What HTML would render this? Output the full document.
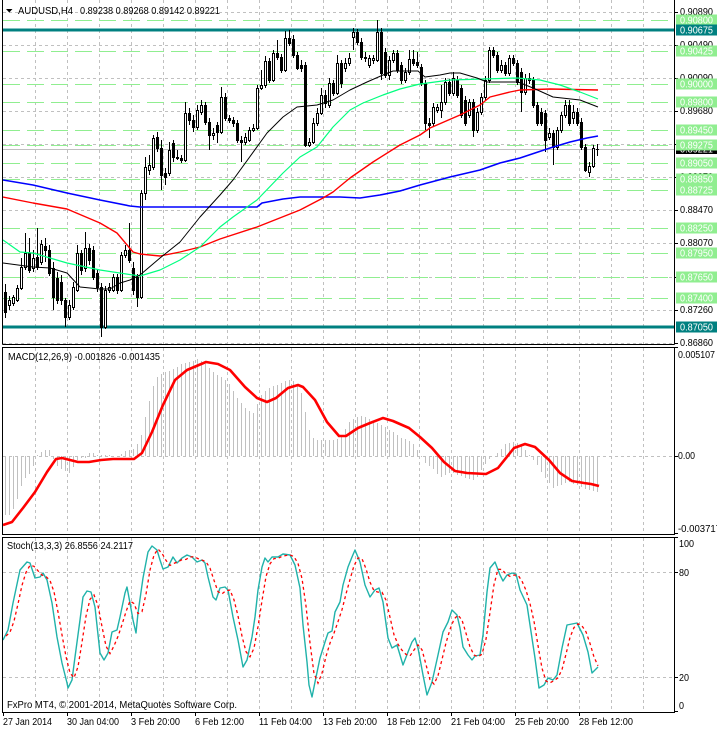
<!DOCTYPE html>
<html><head><meta charset="utf-8">
<style>
html,body{margin:0;padding:0;background:#fff;overflow:hidden;}
svg{display:block;}
text{font-family:"Liberation Sans",Arial,sans-serif;}
</style></head>
<body>
<svg id="s" width="717" height="730" viewBox="0 0 717 730" xmlns="http://www.w3.org/2000/svg">
<defs>
<clipPath id="cm"><rect x="3" y="0" width="671" height="344"/></clipPath>
<clipPath id="cd"><rect x="3" y="348" width="671" height="186"/></clipPath>
<clipPath id="cs"><rect x="3" y="538" width="671" height="174"/></clipPath>
</defs>
<rect width="717" height="730" fill="#fff"/>
<g id="vgrid" stroke="#c0c0c0" stroke-dasharray="3,3" shape-rendering="crispEdges"></g>
<g id="hgrid" stroke="#c0c0c0" stroke-dasharray="3,3" shape-rendering="crispEdges">
<line x1="3" x2="674" y1="12.5" y2="12.5"/><line x1="3" x2="674" y1="45.5" y2="45.5"/>
<line x1="3" x2="674" y1="78.5" y2="78.5"/><line x1="3" x2="674" y1="111.5" y2="111.5"/>
<line x1="3" x2="674" y1="144.5" y2="144.5"/><line x1="3" x2="674" y1="177.5" y2="177.5"/>
<line x1="3" x2="674" y1="210.5" y2="210.5"/><line x1="3" x2="674" y1="243.5" y2="243.5"/>
<line x1="3" x2="674" y1="277.5" y2="277.5"/><line x1="3" x2="674" y1="310.5" y2="310.5"/>
<line x1="3" x2="674" y1="343.5" y2="343.5"/>
<line x1="3" x2="674" y1="456.5" y2="456.5"/>
<line x1="3" x2="674" y1="572.5" y2="572.5"/><line x1="3" x2="674" y1="677.5" y2="677.5"/>
</g>
<g stroke="#90ee90" stroke-width="1" stroke-dasharray="17,7" shape-rendering="crispEdges">
<line x1="3" x2="674" y1="20.5" y2="20.5"/><line x1="3" x2="674" y1="51.5" y2="51.5"/>
<line x1="3" x2="674" y1="84.5" y2="84.5"/><line x1="3" x2="674" y1="102.5" y2="102.5"/>
<line x1="3" x2="674" y1="130.5" y2="130.5"/><line x1="3" x2="674" y1="145.5" y2="145.5"/>
<line x1="3" x2="674" y1="163.5" y2="163.5"/><line x1="3" x2="674" y1="179.5" y2="179.5"/>
<line x1="3" x2="674" y1="190.5" y2="190.5"/><line x1="3" x2="674" y1="228.5" y2="228.5"/>
<line x1="3" x2="674" y1="253.5" y2="253.5"/><line x1="3" x2="674" y1="277.5" y2="277.5"/>
<line x1="3" x2="674" y1="298.5" y2="298.5"/>
</g>
<g stroke="#008080" stroke-width="3" shape-rendering="crispEdges">
<line x1="3" x2="674" y1="30" y2="30"/><line x1="3" x2="674" y1="327" y2="327"/>
</g>
<line x1="3" x2="674" y1="149.5" y2="149.5" stroke="#c0c0c0" shape-rendering="crispEdges"/>
<g id="candles" clip-path="url(#cm)" shape-rendering="crispEdges"></g>
<g clip-path="url(#cm)" fill="none" stroke-linejoin="round">
<polyline stroke="#0000ff" stroke-width="1.6" points="3,180 33,185 67,193 100,200 130,206 140,207 257,207 262,203 283,199 300,197 340,197 360,198 380,195 400,191 420,185 450,177 480,170 500,163 520,158 550,148 570,142 587,138 598,136"/>
<polyline stroke="#ff0000" stroke-width="1.4" points="3,197 33,203 67,209 100,223 117,233 133,252 140,254 160,256 180,252 200,247 220,239 257,227 300,210 323,198 333,192 350,178 373,162 400,145 420,135 430,128 460,115 480,105 490,97 510,92 520,90 550,89 598,90"/>
<polyline stroke="#00ff7f" stroke-width="1.2" points="3,240 20,252 33,253 67,263 100,270 133,275 140,276 160,270 180,260 200,247 207,240 220,227 233,217 257,200 283,173 300,157 317,147 333,127 350,110 363,103 383,95 400,89 420,84 450,80 483,79 517,78 540,80 560,85 580,92 598,99"/>
<polyline stroke="#000000" stroke-width="1" points="3,263 33,267 50,268 67,273 80,287 100,289 110,289 120,283 130,280 140,275 160,258 180,242 200,217 220,195 233,180 267,133 283,117 297,107 317,105 333,100 350,90 367,82 383,75 393,71 418,71 425,77 440,75 450,73 460,73 477,78 487,82 518,82 533,88 553,97 580,100 598,107"/>
</g>
<!-- MACD -->
<g id="hist" clip-path="url(#cd)" stroke="#c0c0c0" shape-rendering="crispEdges"></g>
<polyline clip-path="url(#cd)" fill="none" stroke="#ff0000" stroke-width="2.6" stroke-linejoin="round" points="3,525 12,522 23,508 35,492 47,472 56,459 62,458 78,462 89,462 101,460 113,459 134,459 142,453 152,432 163,405 175,380 187,370 206,362 218,364 230,370 245,387 257,398 267,402 276,398 288,388 298,385 303,387 315,400 327,422 339,436 346,436 358,428 370,423 383,418 393,421 409,428 420,437 432,448 444,462 455,471 467,473 486,474 498,468 514,448 525,444 535,447 549,460 560,473 572,481 584,483 591,484 599,486"/>
<!-- Stoch -->
<g clip-path="url(#cs)" fill="none">
<polyline id="stoch" stroke="#20b2aa" stroke-width="1.4" stroke-linejoin="round" points=""/>
<polyline id="stsig" stroke="#ff0000" stroke-width="1.3" stroke-dasharray="3,3" points=""/>
</g>
<!-- borders -->
<g stroke="#000" fill="none" shape-rendering="crispEdges">
<line x1="2.5" y1="0" x2="2.5" y2="344.5"/><line x1="674.5" y1="0" x2="674.5" y2="344.5"/><line x1="2.5" y1="344.5" x2="674.5" y2="344.5"/>
<rect x="2.5" y="347.5" width="672" height="187"/>
<rect x="2.5" y="537.5" width="672" height="175"/>
</g>
<g id="ticks" stroke="#000" shape-rendering="crispEdges"></g>
<!-- header -->
<polygon points="6,9 12.5,9 9.25,12.5" fill="#000"/>
<text x="18" y="14" font-size="10.5" textLength="55" lengthAdjust="spacingAndGlyphs">AUDUSD,H4</text>
<text x="80" y="14" font-size="10.5" textLength="140" lengthAdjust="spacingAndGlyphs">0.89238 0.89268 0.89142 0.89221</text>
<text x="8" y="360" font-size="10" textLength="152" lengthAdjust="spacingAndGlyphs">MACD(12,26,9) -0.001826 -0.001435</text>
<text x="7" y="549" font-size="10" textLength="126" lengthAdjust="spacingAndGlyphs">Stoch(13,3,3) 26.8556 24.2117</text>
<text x="7" y="708" font-size="10" textLength="230" lengthAdjust="spacingAndGlyphs">FxPro MT4, © 2001-2014, MetaQuotes Software Corp.</text>
<!-- right axis price labels -->
<g font-size="10" fill="#000">
<text x="680" y="15" textLength="33" lengthAdjust="spacingAndGlyphs">0.90890</text>
<text x="680" y="48" textLength="33" lengthAdjust="spacingAndGlyphs">0.90490</text>
<text x="680" y="81" textLength="33" lengthAdjust="spacingAndGlyphs">0.90090</text>
<text x="680" y="114" textLength="33" lengthAdjust="spacingAndGlyphs">0.89680</text>
<text x="680" y="147" textLength="33" lengthAdjust="spacingAndGlyphs">0.89280</text>
<text x="680" y="180" textLength="33" lengthAdjust="spacingAndGlyphs">0.88870</text>
<text x="680" y="213" textLength="33" lengthAdjust="spacingAndGlyphs">0.88470</text>
<text x="680" y="246" textLength="33" lengthAdjust="spacingAndGlyphs">0.88070</text>
<text x="680" y="280" textLength="33" lengthAdjust="spacingAndGlyphs">0.87660</text>
<text x="680" y="313" textLength="33" lengthAdjust="spacingAndGlyphs">0.87260</text>
<text x="680" y="346" textLength="33" lengthAdjust="spacingAndGlyphs">0.86860</text>
</g>
<rect x="676" y="144" width="41" height="10" fill="#000"/>
<text x="680" y="152.5" font-size="10" fill="#fff" textLength="33" lengthAdjust="spacingAndGlyphs">0.89221</text>
<g id="glabels" font-size="10"></g>
<!-- MACD / stoch axis labels -->
<g font-size="10" fill="#000">
<text x="678" y="358" textLength="37" lengthAdjust="spacingAndGlyphs">0.005107</text>
<text x="678" y="459" textLength="17" lengthAdjust="spacingAndGlyphs">0.00</text>
<text x="678" y="532" textLength="43" lengthAdjust="spacingAndGlyphs">-0.003717</text>
<text x="679" y="547" textLength="15" lengthAdjust="spacingAndGlyphs">100</text>
<text x="679" y="576" textLength="10" lengthAdjust="spacingAndGlyphs">80</text>
<text x="679" y="681" textLength="10" lengthAdjust="spacingAndGlyphs">20</text>
<text x="679" y="709" textLength="5" lengthAdjust="spacingAndGlyphs">0</text>
</g>
<g id="tlabels" font-size="10.5" fill="#000"></g>
</svg>
<script>
(function(){
var NS="http://www.w3.org/2000/svg";
function el(tag,a,p){var e=document.createElementNS(NS,tag);for(var k in a)e.setAttribute(k,a[k]);p.appendChild(e);return e;}
function $(id){return document.getElementById(id);}
var vg=$("vgrid");
for(var k=1;k<=20;k++){var x=3+32*k+0.5;
 el("line",{x1:x,x2:x,y1:0,y2:344},vg);
 el("line",{x1:x,x2:x,y1:348,y2:534},vg);
 el("line",{x1:x,x2:x,y1:538,y2:712},vg);}
var tk=$("ticks");
[12,45,78,111,144,177,210,243,277,310,343,456,572,677].forEach(function(y){el("line",{x1:675,x2:678,y1:y+0.5,y2:y+0.5},tk);});
el("line",{x1:675,x2:678,y1:537.5,y2:537.5},tk);el("line",{x1:675,x2:678,y1:711.5,y2:711.5},tk);
el("line",{x1:675,x2:678,y1:347.5,y2:347.5},tk);el("line",{x1:675,x2:678,y1:533.5,y2:533.5},tk);
var tl=$("tlabels");
var labs=[[3,"27 Jan 2014",49],[67,"30 Jan 04:00",52],[131,"3 Feb 20:00",49],[195,"6 Feb 12:00",49],[259,"11 Feb 04:00",53],[323,"13 Feb 20:00",54],[387,"18 Feb 12:00",54],[451,"21 Feb 04:00",54],[515,"25 Feb 20:00",54],[579,"28 Feb 12:00",54]];
labs.forEach(function(l){el("line",{x1:l[0]+0.5,x2:l[0]+0.5,y1:712,y2:716},tk);
 var t=el("text",{x:l[0],y:725,textLength:l[2],lengthAdjust:"spacingAndGlyphs"},tl);t.textContent=l[1];});
var gl=$("glabels");
var G=[[20,"0.90800","#90ee90"],[30,"0.90675","#008080"],[51,"0.90425","#90ee90"],[84,"0.90000","#90ee90"],[102,"0.89800","#90ee90"],[130,"0.89450","#90ee90"],[145,"0.89275","#90ee90"],[163,"0.89050","#90ee90"],[179,"0.88850","#90ee90"],[190,"0.88725","#90ee90"],[228,"0.88250","#90ee90"],[253,"0.87950","#90ee90"],[277,"0.87650","#90ee90"],[298,"0.87400","#90ee90"],[327,"0.87050","#008080"]];
G.forEach(function(g){el("rect",{x:676,y:g[0]-5.5,width:41,height:11,fill:g[2]},gl);
 var t=el("text",{x:680,y:g[0]+3.5,fill:"#fff",textLength:33,lengthAdjust:"spacingAndGlyphs"},gl);t.textContent=g[1];});
var C=[
[292,312,284,318],[305,300,296,310],[303,297,295,306],[300,288,285,302],[288,267,258,290],
[267,253,233,270],[253,270,238,273],[268,258,250,272],[257,267,228,270],[262,244,240,265],
[246,250,238,262],[250,273,245,276],[268,297,262,310],[278,300,272,304],[282,300,275,305],
[300,317,298,327],[317,305,300,320],[307,287,282,310],[290,253,245,292],[253,270,250,275],
[268,248,232,272],[248,260,244,265],[250,277,246,280],[273,287,270,292],[287,327,283,337],
[327,290,286,329],[290,287,283,293],[290,277,274,292],[277,290,274,294],[290,255,252,292],
[255,250,245,258],[250,260,223,263],[268,290,262,295],[277,297,274,307],[297,193,190,299],
[193,167,157,200],[170,165,155,175],[167,138,135,170],[137,148,132,152],[148,175,140,190],
[173,177,168,185],[173,150,142,176],[143,157,140,162],[157,158,150,160],[158,160,155,163],
[160,113,102,162],[113,120,108,125],[120,127,115,132],[127,110,105,130],[112,105,100,115],
[105,122,102,125],[122,135,118,150],[135,133,128,140],[125,132,122,143],[132,97,87,134],
[97,118,93,121],[118,120,115,123],[120,123,117,127],[123,140,120,143],[140,142,136,162],
[142,137,133,145],[140,130,127,142],[130,128,124,132],[128,88,85,130],[88,85,70,90],
[85,61,56,88],[61,80,58,83],[80,53,50,82],[53,57,40,60],[57,70,54,73],
[70,38,31,72],[38,43,30,46],[39,55,35,58],[55,68,52,70],[65,68,60,72],
[65,145,62,147],[145,142,138,147],[142,123,118,144],[123,113,108,126],[113,95,88,115],
[95,103,90,108],[105,83,78,108],[83,93,80,96],[93,63,55,95],[63,83,60,88],
[68,63,58,72],[63,58,53,66],[37,32,28,50],[32,42,29,45],[42,57,38,60],
[57,58,52,62],[65,58,55,68],[60,58,55,64],[60,32,20,62],[32,73,28,80],
[52,75,48,78],[75,60,56,80],[60,53,50,63],[53,70,50,73],[65,80,62,84],
[80,72,68,83],[72,59,50,75],[59,63,50,66],[62,65,52,68],[67,83,64,86],
[83,123,80,130],[123,125,118,138],[123,107,103,126],[110,107,104,113],[110,102,85,118],
[102,82,78,105],[82,93,79,96],[93,78,72,96],[80,95,76,98],[88,115,85,118],
[100,123,96,126],[115,102,99,118],[102,130,99,137],[130,112,108,133],[112,97,93,115],
[97,80,76,100],[80,50,47,83],[50,55,47,58],[55,70,52,73],[70,65,60,73],
[65,73,62,76],[73,58,55,76],[58,63,55,66],[63,82,60,85],[72,92,68,112],
[92,78,74,95],[78,80,73,84],[80,105,77,108],[105,123,102,126],[112,123,108,126],
[113,140,110,152],[137,133,128,140],[133,147,130,165],[147,130,127,150],[130,115,112,133],
[115,105,100,118],[105,123,100,126],[118,112,105,124],[112,123,108,126],[122,147,118,150],
[147,170,144,172],[172,166,162,177],[166,148,145,168],[149,149,144,156]];
var cg=$("candles");
C.forEach(function(c,i){var cx=5+4*i;var o=c[0],cl=c[1],h=c[2],l=c[3];
 var top=Math.min(o,cl),bot=Math.max(o,cl);
 el("line",{x1:cx+0.5,x2:cx+0.5,y1:h,y2:l,stroke:"#000"},cg);
 el("rect",{x:cx-0.5,y:top+0.5,width:2,height:Math.max(bot-top,0.01),fill:(cl<o?"#fff":(cl>o?"#000":"#fff")),stroke:"#000"},cg);
});
function interp(p,x){if(x<=p[0][0])return p[0][1];for(var i=1;i<p.length;i++){if(x<=p[i][0]){var a=p[i-1],b=p[i];return a[1]+(b[1]-a[1])*(x-a[0])/(b[0]-a[0]);}}return p[p.length-1][1];}
var H=[[3,515],[10,515],[16,502],[23,480],[31,472],[37,455],[43,450],[50,450],[55,465],[62,470],[70,473],[78,458],[86,458],[90,451],[95,455],[105,455],[117,456],[125,451],[132,450],[140,440],[144,421],[148,405],[152,388],[156,378],[163,373],[171,370],[183,363],[195,360],[198,358],[206,365],[214,373],[222,377],[230,385],[237,398],[245,408],[253,413],[261,395],[268,388],[276,385],[288,380],[296,382],[303,398],[307,425],[311,435],[315,440],[335,440],[342,435],[350,420],[358,416],[366,417],[374,422],[385,427],[393,432],[401,438],[412,442],[420,455],[424,462],[432,468],[440,477],[451,472],[463,477],[475,481],[482,468],[490,458],[498,452],[506,443],[514,442],[521,445],[529,455],[537,465],[545,478],[553,488],[560,485],[568,482],[576,485],[588,490],[599,493]];
var hg=$("hist");
for(var i=0;i<149;i++){var x=5+4*i;var y=Math.round(interp(H,x));el("line",{x1:x+0.5,x2:x+0.5,y1:456,y2:y},hg);}
var S=[[3,640],[8,630],[13,603],[20,570],[27,562],[30,563],[35,578],[40,577],[43,573],[47,580],[52,603],[57,637],[62,663],[67,683],[68,688],[72,680],[75,657],[80,620],[83,597],[87,591],[91,592],[95,607],[100,653],[104,660],[108,653],[112,632],[117,630],[120,617],[125,593],[127,587],[130,603],[133,620],[136,633],[138,613],[143,578],[148,552],[152,546],[157,550],[160,560],[163,569],[168,567],[173,557],[177,563],[182,558],[187,555],[192,557],[197,562],[202,560],[205,563],[208,577],[213,597],[216,600],[220,588],[225,587],[228,590],[233,617],[238,640],[243,667],[247,660],[252,637],[255,617],[258,590],[262,567],[265,558],[268,562],[272,557],[278,557],[283,554],[290,555],[295,565],[300,588],[303,625],[307,662],[309,685],[312,697],[315,682],[320,658],[325,642],[328,633],[332,631],[335,612],[340,602],[343,585],[348,567],[352,557],[355,550],[360,562],[365,585],[370,597],[375,590],[379,588],[383,602],[388,638],[392,648],[397,645],[403,665],[408,652],[412,642],[415,638],[418,648],[423,675],[427,695],[432,682],[438,655],[443,632],[448,622],[452,610],[457,615],[460,628],[463,647],[468,655],[472,660],[475,656],[480,655],[483,635],[487,592],[490,568],[495,562],[500,575],[503,581],[507,575],[512,573],[516,574],[520,590],[527,605],[530,625],[535,658],[539,688],[544,685],[548,678],[553,680],[557,675],[562,648],[567,625],[572,624],[577,623],[583,635],[588,652],[592,673],[598,667]];
$("stoch").setAttribute("points",S.map(function(p){return p[0]+","+p[1];}).join(" "));
var sv=[];for(var i=0;i<149;i++){sv.push(interp(S,5+4*i));}
var sp=[];for(var i=0;i<149;i++){var a=sv[i],b=sv[Math.max(i-1,0)],c=sv[Math.max(i-2,0)];sp.push((5+4*i+1)+","+((a+b+c)/3).toFixed(1));}
$("stsig").setAttribute("points",sp.join(" "));
})();
</script>
</body></html>
